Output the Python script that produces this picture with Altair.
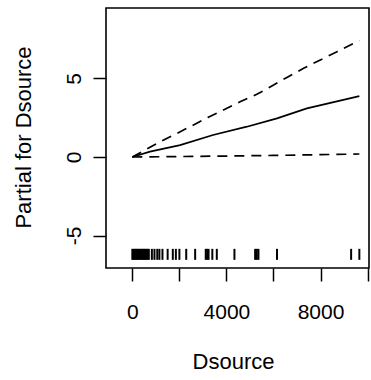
import altair as alt
import pandas as pd

# Fitted partial effect and its upper / lower bands
fit_x = [0, 750, 2030, 3430, 4870, 6150, 7420, 9650]
fit_y = [0, 0.34, 0.76, 1.4, 1.93, 2.46, 3.1, 3.88]

upper_x = [0, 750, 1180, 1890, 2600, 3230, 4020, 4580, 5290, 5930, 6570, 7280, 7990, 8700, 9650]
upper_y = [0, 0.62, 0.97, 1.5, 2.04, 2.53, 3.1, 3.52, 3.99, 4.52, 5.07, 5.65, 6.18, 6.71, 7.42]

lower_x = [0, 2000, 4000, 6000, 8000, 9650]
lower_y = [0, 0.03, 0.06, 0.1, 0.15, 0.19]

# Rug of observed Dsource values
rug_x = [0, 50, 100, 150, 200, 250, 300, 350, 400, 450, 500, 550, 600, 650, 700,
         830, 940, 1060, 1150, 1280, 1500, 1720, 1850, 2000, 2290, 2670,
         3120, 3180, 3240, 3400, 3590, 4340, 5220, 5290, 5360, 6150, 9300, 9650]

x_ticks = [0, 2000, 4000, 6000, 8000, 10000]
y_ticks = [-5, 0, 5]

FONT = "Liberation Sans"

fit_df = pd.DataFrame({"x": fit_x, "y": fit_y})
upper_df = pd.DataFrame({"x": upper_x, "y": upper_y})
lower_df = pd.DataFrame({"x": lower_x, "y": lower_y})
rug_df = pd.DataFrame({"x": rug_x})

xscale = alt.Scale(domain=[-1120, 10060], nice=False, zero=False)
yscale = alt.Scale(domain=[-7.07, 9.49], nice=False, zero=False)

xaxis = alt.Axis(
    title="Dsource", values=x_ticks, domain=False, grid=False,
    tickSize=13, tickColor="black", tickWidth=1.5,
    labelExpr="datum.value % 4000 === 0 ? toString(datum.value) : ''",
    labelOverlap=False, labelFlush=False, labelPadding=20,
    labelFont=FONT, labelFontSize=21, labelColor="black",
    titleFont=FONT, titleFontSize=22, titleFontWeight="normal", titleColor="black",
    titleX=127, titleY=100, titleBaseline="alphabetic", titleAlign="center",
)
yaxis = alt.Axis(
    title="Partial for Dsource", values=y_ticks, domain=False, grid=False,
    tickSize=13, tickColor="black", tickWidth=1.5,
    labelExpr="toString(datum.value)",
    labelAngle=270, labelAlign="center", labelBaseline="alphabetic", labelPadding=13,
    labelOverlap=False, labelFlush=False,
    labelFont=FONT, labelFontSize=21, labelColor="black",
    titleFont=FONT, titleFontSize=22, titleFontWeight="normal", titleColor="black",
    titleAngle=270, titleX=-76, titleY=129, titleBaseline="alphabetic", titleAlign="center",
)

fit = alt.Chart(fit_df).mark_line(color="black", strokeWidth=1.7).encode(
    x=alt.X("x:Q", scale=xscale, axis=xaxis),
    y=alt.Y("y:Q", scale=yscale, axis=yaxis),
)
upper = alt.Chart(upper_df).mark_line(color="black", strokeWidth=1.7, strokeDash=[10, 7]).encode(
    x=alt.X("x:Q", scale=xscale), y=alt.Y("y:Q", scale=yscale)
)
lower = alt.Chart(lower_df).mark_line(color="black", strokeWidth=1.7, strokeDash=[10, 7]).encode(
    x=alt.X("x:Q", scale=xscale), y=alt.Y("y:Q", scale=yscale)
)
rug = alt.Chart(rug_df).mark_rule(color="black", strokeWidth=2).encode(
    x=alt.X("x:Q", scale=xscale),
    y=alt.datum(-5.85),
    y2=alt.datum(-6.55),
)

chart = alt.layer(fit, upper, lower, rug).properties(
    width=263, height=260,
    autosize=alt.AutoSizeParams(type="none"),
    padding={"left": 106, "top": 8, "right": 2, "bottom": 112},
    background="white",
).configure_view(stroke="black", strokeWidth=1.6)

chart.save("out.html", embed_options={"renderer": "svg", "actions": False})
